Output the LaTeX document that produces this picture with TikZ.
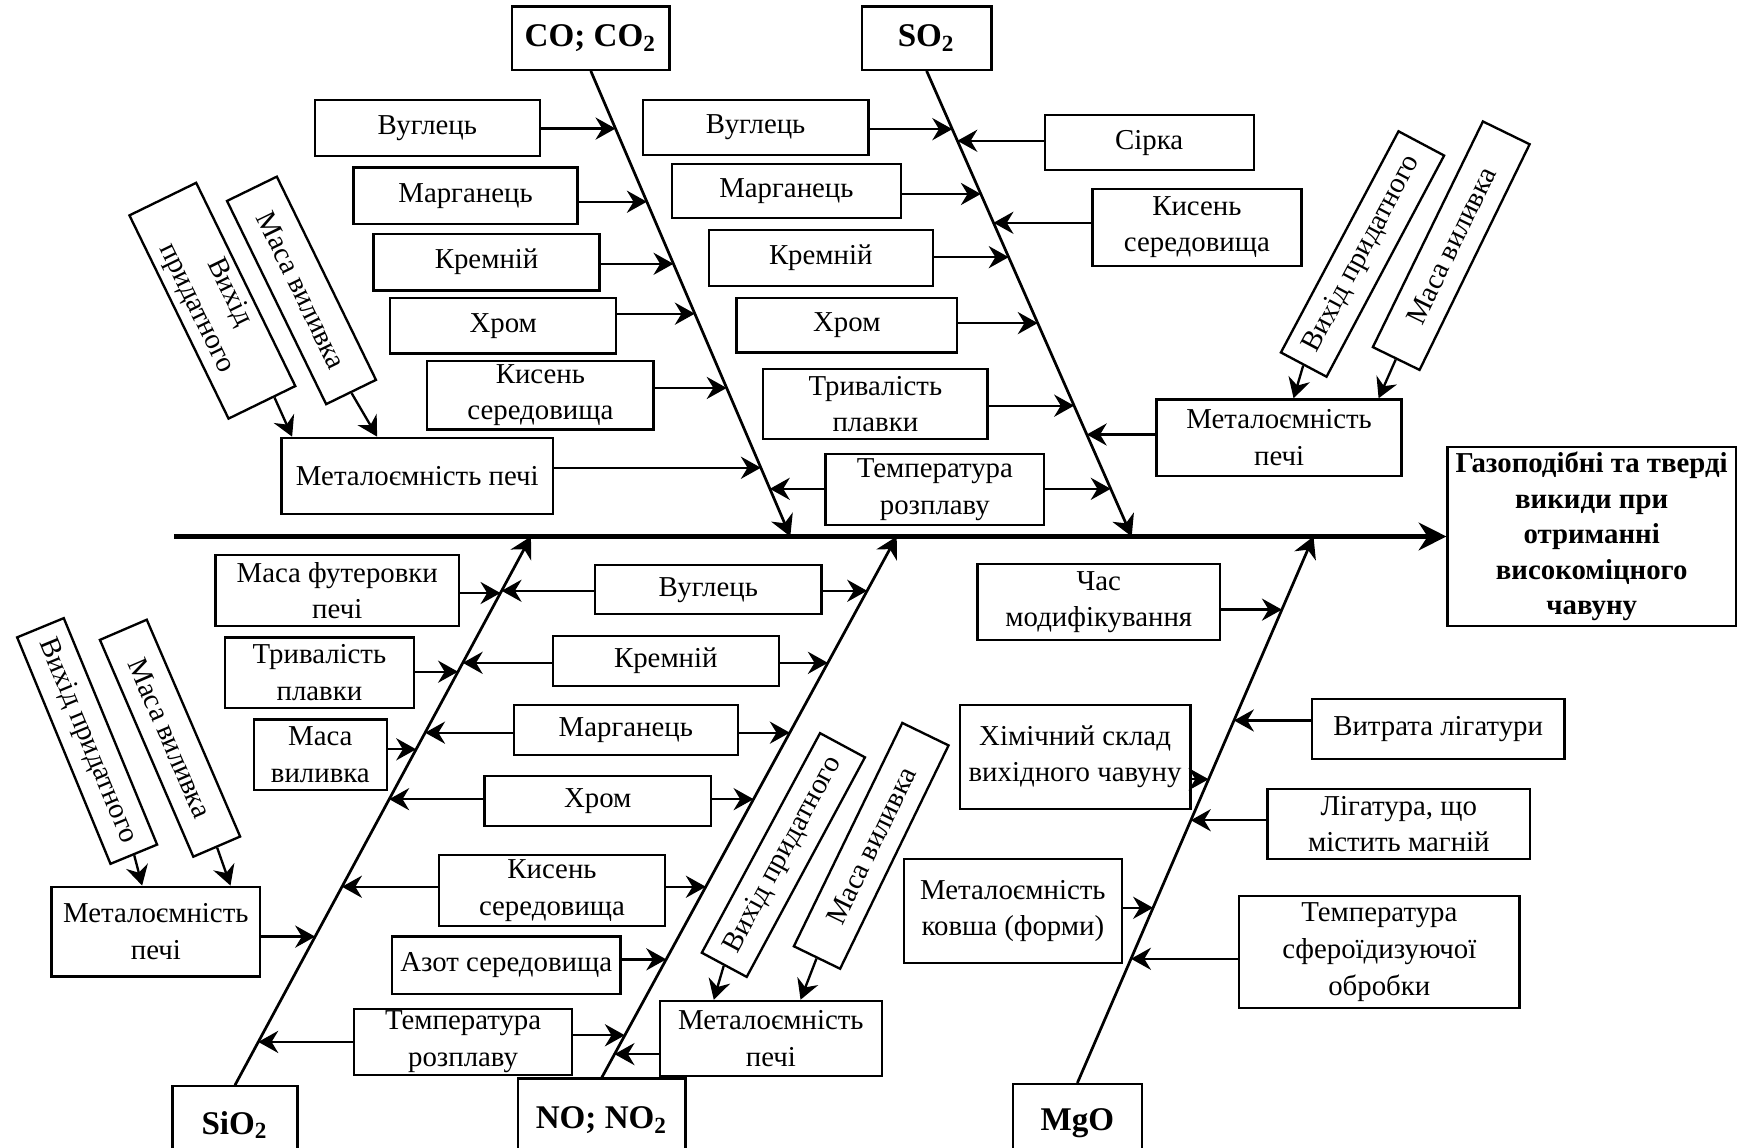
\documentclass[tikz,border=0pt]{standalone}
\usepackage{fontspec}
\setmainfont{Liberation Serif}
\usepackage{tikz}
\usetikzlibrary{calc}
\usetikzlibrary{arrows.meta}

\begin{document}
\begin{tikzpicture}[x=0.1mm,y=-0.1mm,
    box/.style={draw,line width=0.6pt,align=center,inner sep=0.5pt,
      font=\fontsize{7.4}{9.4}\selectfont},
    cat/.style={box,font=\fontsize{8.5}{10}\selectfont\bfseries},
    sz/.style 2 args={minimum width=#1mm,minimum height=#2mm},
    arr/.style={-{Stealth[length=1.8mm,width=2mm,inset=0.6mm]},line width=0.6pt},
    rib/.style={-{Stealth[length=1.9mm,width=2.1mm,inset=0.6mm]},line width=0.7pt},
    spine/.style={-{Stealth[length=2.5mm,width=2.5mm,inset=0.8mm]},line width=1.3pt}]
  \useasboundingbox (0,0) rectangle (1568,1035);
  \clip (0,0) rectangle (1568,1035);

  \node[box,sz={26}{16.1},font=\fontsize{7.4}{9.1}\selectfont\bfseries] (ef) at (1436,484)
    {Газоподібні та тверді\\викиди при\\отриманні\\високоміцного\\чавуну};
  \coordinate (tail) at (157,484);
  \draw[spine] (tail) -- (ef.west);

  \node[cat,sz={14.2}{5.7},anchor=south] (co) at (533,64) {CO; CO\textsubscript{2}};
  \node[cat,sz={11.7}{5.7},anchor=south] (so) at (836,64) {SO\textsubscript{2}};
  \node[cat,sz={11.3}{7},anchor=north] (si) at (212,979) {SiO\textsubscript{2}};
  \node[cat,sz={15.1}{7.5},anchor=north] (no) at (543,972) {NO; NO\textsubscript{2}};
  \node[cat,sz={11.6}{7},anchor=north] (mg) at (972,977) {MgO};
  \coordinate (coB) at (713,484);
  \coordinate (soB) at (1021,484);
  \coordinate (siB) at (479,484);
  \coordinate (noB) at (809,484);
  \coordinate (mgB) at (1185,484);
  \draw[rib] (co.south) -- (coB);
  \draw[rib] (so.south) -- (soB);
  \draw[rib] (si.north) -- (siB);
  \draw[rib] (no.north) -- (noB);
  \draw[rib] (mg.north) -- (mgB);

  \foreach \n/\y in {1/116,2/182,3/238,4/283,5/350,6/422,7/441}
    \coordinate (co\n) at ({533+(\y-64)/420*180},\y);
  \foreach \n/\y in {1/116.5,2/127,3/175,4/201,5/232,6/291.5,7/366,8/392,9/441}
    \coordinate (so\n) at ({836+(\y-64)/420*185},\y);
  \foreach \n/\y in {1/535,2/533,3/606,4/598,5/661,6/676,7/721,8/800,9/845,10/940}
    \coordinate (si\n) at ({212+(979-\y)/495*267},\y);
  \foreach \n/\y in {1/533,2/598,3/661,4/721,5/800,6/865.5,7/934,8/951}
    \coordinate (no\n) at ({543+(972-\y)/488*266},\y);
  \foreach \n/\y in {1/550,2/650,3/703,4/740,5/819,6/865}
    \coordinate (mg\n) at ({972+(977-\y)/493*213},\y);

  \node[box,sz={20.3}{5.1}] (cv1) at (385.5,115.5) {Вуглець};
  \node[box,sz={20.2}{5.1}] (cv2) at (420,176.5) {Марганець};
  \node[box,sz={20.4}{5.1}] (cv3) at (439,236.5) {Кремній};
  \node[box,sz={20.4}{5}] (cv4) at (454,294) {Хром};
  \node[box,sz={20.4}{6.2}] (cv5) at (487.5,356.6) {Кисень\\середовища};
  \node[box,sz={24.5}{6.9}] (cv6) at (376.5,429.5) {Металоємність печі};
  \node[box,sz={20.4}{6.7},rotate=-64] (cv7) at (191.6,271.3) {Вихід\\придатного};
  \node[box,sz={20.4}{5},rotate=-64] (cv8) at (272,262) {Маса виливка};
  \draw[arr] (cv1.east |- co1) -- (co1);
  \draw[arr] (cv2.east |- co2) -- (co2);
  \draw[arr] (cv3.east |- co3) -- (co3);
  \draw[arr] (cv4.east |- co4) -- (co4);
  \draw[arr] (cv5.east |- co5) -- (co5);
  \draw[arr] (cv6.east |- co6) -- (co6);
  \coordinate (cv6a) at ($(cv6.north west)+(10.6,0)$);
  \coordinate (cv6b) at ($(cv6.north west)+(87.3,0)$);
  \draw[arr] ($(cv7.east)!.35!(cv7.north east)$) -- (cv6a);
  \draw[arr] (cv8.east) -- (cv6b);

  \node[box,sz={20.35}{5}] (sv1) at (681.75,115) {Вуглець};
  \node[box,sz={20.7}{4.9}] (sv2) at (709.5,172.3) {Марганець};
  \node[box,sz={20.2}{5.05}] (sv3) at (740.5,232.75) {Кремній};
  \node[box,sz={19.9}{4.9}] (sv4) at (764,293.5) {Хром};
  \node[box,sz={20.25}{6.3}] (sv5) at (789.75,364.5) {Тривалість\\плавки};
  \node[box,sz={19.7}{6.4}] (tr) at (843.4,441.5) {Температура\\розплаву};
  \node[box,sz={18.85}{5}] (sv6) at (1036.8,128.65) {Сірка};
  \node[box,sz={18.85}{6.95}] (sv7) at (1079.8,205) {Кисень\\середовища};
  \node[box,sz={22.1}{6.9}] (sv8) at (1154,394.9) {Металоємність\\печі};
  \node[box,sz={22.6}{4.66},rotate=62] (sv9) at (1229.25,229.15) {Вихід придатного};
  \node[box,sz={22.65}{4.69},rotate=64] (sv10) at (1309.3,221.65) {Маса виливка};
  \draw[arr] (sv1.east |- so1) -- (so1);
  \draw[arr] (sv6.west |- so2) -- (so2);
  \draw[arr] (sv2.east |- so3) -- (so3);
  \draw[arr] (sv7.west |- so4) -- (so4);
  \draw[arr] (sv3.east |- so5) -- (so5);
  \draw[arr] (sv4.east |- so6) -- (so6);
  \draw[arr] (sv5.east |- so7) -- (so7);
  \draw[arr] (sv8.west |- so8) -- (so8);
  \draw[arr] (tr.east |- so9) -- (so9);
  \draw[arr] (tr.west |- co7) -- (co7);
  \coordinate (sv8a) at ($(sv8.north west)+(124.6,0)$);
  \coordinate (sv8b) at ($(sv8.north west)+(201.3,0)$);
  \draw[arr] (sv9.west) -- (sv8a);
  \draw[arr] (sv10.west) -- (sv8b);

  \node[box,sz={21.95}{6.4}] (sl1) at (304.25,533) {Маса футеровки\\печі};
  \node[box,sz={17.05}{6.4}] (sl2) at (288.2,607) {Тривалість\\плавки};
  \node[box,sz={12}{6.4}] (sl3) at (289,681) {Маса\\виливка};
  \node[box,sz={18.8}{8.1}] (sl4) at (140.6,840.5) {Металоємність\\печі};
  \node[box,sz={22.1}{4.55},rotate=-67.6] (sl5) at (78.6,668.5) {Вихід придатного};
  \node[box,sz={21.3}{4.6},rotate=-66.7] (sl6) at (153.4,666) {Маса виливка};
  \draw[arr] (sl1.east |- si1) -- (si1);
  \draw[arr] (sl2.east |- si3) -- (si3);
  \draw[arr] (sl3.east |- si6) -- (si6);
  \draw[arr] (sl4.east |- si9) -- (si9);
  \coordinate (sl4a) at ($(sl4.north west)+(82.7,0)$);
  \coordinate (sl4b) at ($(sl4.north west)+(162.4,0)$);
  \draw[arr] (sl5.east) -- (sl4a);
  \draw[arr] (sl6.east) -- (sl4b);

  \node[box,sz={20.4}{4.4}] (sm1) at (639,532) {Вуглець};
  \node[box,sz={20.4}{4.5}] (sm2) at (600.7,596.5) {Кремній};
  \node[box,sz={20.2}{4.5}] (sm3) at (564.6,658.5) {Марганець};
  \node[box,sz={20.45}{4.5}] (sm4) at (539.25,722.5) {Хром};
  \node[box,sz={20.4}{6.4}] (sm5) at (498,803.5) {Кисень\\середовища};
  \node[box,sz={20.65}{5.15}] (sm6) at (456.7,870.75) {Азот середовища};
  \node[box,sz={19.7}{6}] (sm7) at (417.8,940) {Температура\\розплаву};
  \draw[arr] (sm1.west |- si2) -- (si2);
  \draw[arr] (sm1.east |- no1) -- (no1);
  \draw[arr] (sm2.west |- si4) -- (si4);
  \draw[arr] (sm2.east |- no2) -- (no2);
  \draw[arr] (sm3.west |- si5) -- (si5);
  \draw[arr] (sm3.east |- no3) -- (no3);
  \draw[arr] (sm4.west |- si7) -- (si7);
  \draw[arr] (sm4.east |- no4) -- (no4);
  \draw[arr] (sm5.west |- si8) -- (si8);
  \draw[arr] (sm5.east |- no5) -- (no5);
  \draw[arr] (sm6.east |- no6) -- (no6);
  \draw[arr] (sm7.west |- si10) -- (si10);
  \draw[arr] (sm7.east |- no7) -- (no7);

  \node[box,sz={20}{6.8}] (sn1) at (695.5,937) {Металоємність\\печі};
  \node[box,sz={22.5}{4.6},rotate=61.7] (sn2) at (706.75,771.4) {Вихід придатного};
  \node[box,sz={22.4}{4.64},rotate=64.1] (sn3) at (786,763.1) {Маса виливка};
  \draw[arr] (sn1.west |- no8) -- (no8);
  \coordinate (sn1a) at ($(sn1.north west)+(49.5,0)$);
  \coordinate (sn1b) at ($(sn1.north west)+(127.8,0)$);
  \draw[arr] (sn2.west) -- (sn1a);
  \draw[arr] (sn3.west) -- (sn1b);

  \node[box,sz={21.9}{6.9}] (sg1) at (991.35,543.1) {Час\\модифікування};
  \node[box,sz={20.8}{9.4}] (sg2) at (969.9,682.85) {Хімічний склад\\вихідного чавуну};
  \node[box,sz={19.7}{9.4}] (sg3) at (913.8,822) {Металоємність\\ковша (форми)};
  \node[box,sz={22.8}{5.4}] (sg4) at (1297.5,657.65) {Витрата лігатури};
  \node[box,sz={23.7}{6.3}] (sg5) at (1262,743.5) {Лігатура, що\\містить магній};
  \node[box,sz={25.3}{10.1}] (sg6) at (1244.4,858.9) {Температура\\сфероїдизуючої\\обробки};
  \draw[arr] (sg1.east |- mg1) -- (mg1);
  \draw[arr] (sg4.west |- mg2) -- (mg2);
  \draw[arr] (sg2.east |- mg3) -- (mg3);
  \draw[arr] (sg5.west |- mg4) -- (mg4);
  \draw[arr] (sg3.east |- mg5) -- (mg5);
  \draw[arr] (sg6.west |- mg6) -- (mg6);
\end{tikzpicture}
\end{document}
